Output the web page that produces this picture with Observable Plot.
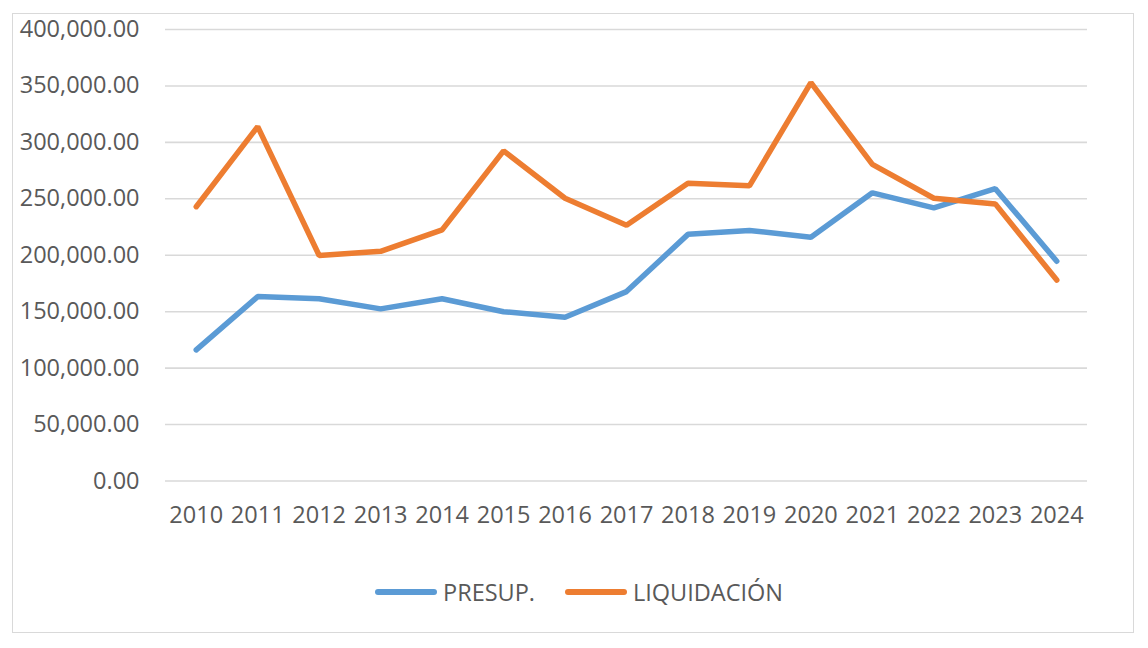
<!DOCTYPE html>
<html>
<head>
<meta charset="utf-8">
<script src="https://cdn.jsdelivr.net/npm/d3@7"></script>
<script src="https://cdn.jsdelivr.net/npm/@observablehq/plot@0.6"></script>
<style>
  html, body { margin: 0; padding: 0; background: #fff; }
  #wrap { position: relative; width: 1148px; height: 648px; font-family: "Open Sans", sans-serif; color: #595959; }
  #border { position: absolute; left: 12px; top: 13px; width: 1122px; height: 620px; border: 1.5px solid #d9d9d9; box-sizing: border-box; pointer-events: none; }
  #chart { position: absolute; left: 0; top: 0; }
  #legend { position: absolute; top: 575px; left: 0; width: 1148px; height: 34px; }
  .key { position: absolute; top: 0; height: 34px; display: flex; align-items: center; font-size: 23.5px; }
  .swatch { width: 62px; height: 6px; border-radius: 3px; margin-right: 6px; }
</style>
</head>
<body>
<div id="wrap">
  <div id="border"></div>
  <div id="chart"></div>
  <div id="legend"></div>
</div>
<script>
// Yearly budget vs. executed amounts
const years = ["2010","2011","2012","2013","2014","2015","2016","2017","2018","2019","2020","2021","2022","2023","2024"];
const presup = [116200, 163400, 161500, 152500, 161500, 150000, 145000, 167800, 218500, 222000, 216000, 255300, 242000, 259000, 194700];
const liquidacion = [243000, 314000, 199800, 203500, 222500, 292500, 250500, 226500, 263800, 261500, 353000, 280500, 250500, 245500, 178000];
const yTicks = [0, 50000, 100000, 150000, 200000, 250000, 300000, 350000, 400000];

const seriesNames = ["PRESUP.", "LIQUIDACIÓN"];
const seriesColors = ["#5B9BD5", "#ED7D31"];

const rows = [
  ...years.map((year, i) => ({year, value: presup[i], serie: seriesNames[0]})),
  ...years.map((year, i) => ({year, value: liquidacion[i], serie: seriesNames[1]}))
];

const fmt = d3.format(",.2f");

const chart = Plot.plot({
  width: 1148,
  height: 560,
  marginTop: 29,
  marginBottom: 79.5,
  marginLeft: 165,
  marginRight: 61,
  style: { fontFamily: "Open Sans, sans-serif", fontSize: "23.5px", color: "#595959", background: "transparent" },
  x: { type: "point", domain: years, padding: 0.5, round: false, label: null },
  y: { domain: [0, 400000], label: null },
  color: { domain: seriesNames, range: seriesColors },
  marks: [
    Plot.gridY(yTicks, { stroke: "#d9d9d9", strokeOpacity: 1, strokeWidth: 1.6 }),
    Plot.axisY(yTicks, { tickSize: 0, tickPadding: 26, tickFormat: fmt, fill: "#595959", fontSize: 23.5, label: null }),
    Plot.axisX({ tickSize: 0, tickPadding: 25, fill: "#595959", fontSize: 23.5, label: null }),
    Plot.line(rows, {
      x: "year", y: "value", z: "serie", stroke: "serie",
      strokeWidth: 5.5, strokeLinecap: "round", strokeLinejoin: "miter"
    })
  ]
});
document.getElementById("chart").appendChild(chart);

// Legend below the chart
const legend = document.getElementById("legend");
const keyLefts = [375, 565];
seriesNames.forEach((name, i) => {
  const key = document.createElement("div");
  key.className = "key";
  key.style.left = keyLefts[i] + "px";
  const sw = document.createElement("div");
  sw.className = "swatch";
  sw.style.background = seriesColors[i];
  const label = document.createElement("span");
  label.textContent = name;
  key.appendChild(sw);
  key.appendChild(label);
  legend.appendChild(key);
});
</script>
</body>
</html>
